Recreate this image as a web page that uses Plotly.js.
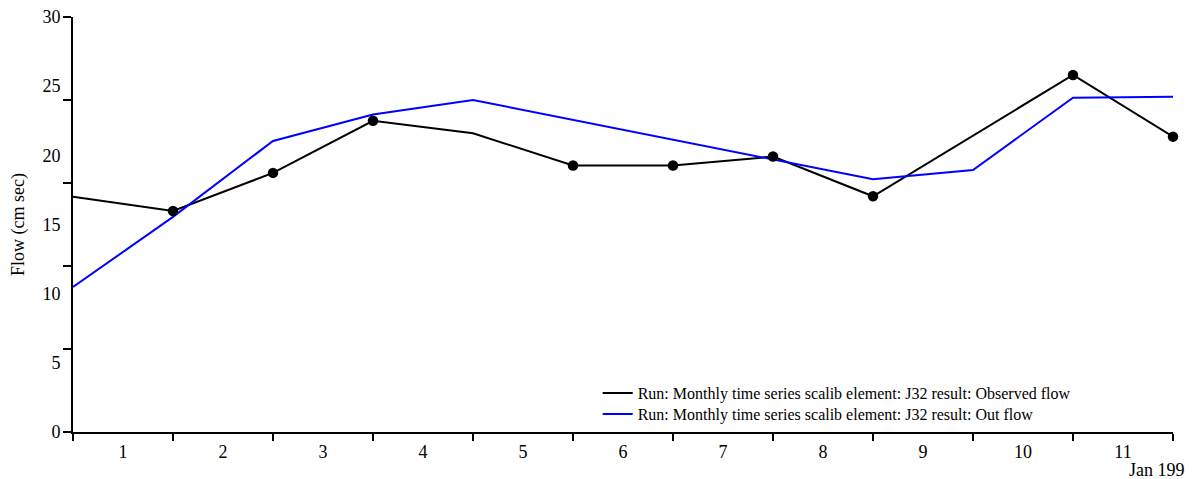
<!DOCTYPE html>
<html>
<head>
<meta charset="utf-8">
<script src="https://cdn.plot.ly/plotly-3.0.1.min.js"></script>
<style>html,body{margin:0;padding:0;background:#fff;}#chart{width:1194px;height:479px;}</style>
</head>
<body>
<div id="chart"></div>
<script>
// Month boundaries (index of month start, 0 = start of month 1)
const monthStarts = [0, 1, 2, 3, 4, 5, 6, 7, 8, 9, 10, 11];
// Observed flow (null = no vertex)
const observedFlow = [17.0, 15.98, 18.73, 22.5, 21.6, 19.26, 19.26, 19.91, 17.04, null, 25.81, 21.35];
// Whether an observed point carries a marker
const observedMarked = [false, true, true, true, false, true, true, true, true, false, true, true];
// Simulated out flow (null = no vertex)
const outFlow = [10.48, 15.55, 21.04, 22.95, 24.0, null, null, 19.74, 18.27, 18.94, 24.17, 24.24];
// Month label positions and text
const monthLabelPos = [0.5, 1.5, 2.5, 3.5, 4.5, 5.5, 6.5, 7.5, 8.5, 9.5, 10.5];
const monthLabels = ["1", "2", "3", "4", "5", "6", "7", "8", "9", "10", "11"];
const yTickMarks = [0, 6, 12, 18, 24, 30];
const yLabelVals = [0, 5, 10, 15, 20, 25, 30];
const yLabels = ["0", "5", "10", "15", "20", "25", "30"];
const seriesNames = [
  "Run: Monthly time series scalib element: J32 result: Observed flow",
  "Run: Monthly time series scalib element: J32 result: Out flow"
];
const periodLabel = "Jan 199";

const FONT = "Liberation Serif, Times New Roman, serif";

const markX = [], markY = [];
monthStarts.forEach((m, i) => { if (observedMarked[i] && observedFlow[i] !== null) { markX.push(m); markY.push(observedFlow[i]); } });

const traces = [
  {x: monthStarts, y: observedFlow, mode: 'lines', connectgaps: true, name: seriesNames[0], legend: 'legend',
   line: {color: '#000000', width: 2}, cliponaxis: false},
  {x: monthStarts, y: outFlow, mode: 'lines', connectgaps: true, name: seriesNames[1], legend: 'legend2',
   line: {color: '#0000ff', width: 2}, cliponaxis: false},
  {x: markX, y: markY, mode: 'markers', showlegend: false,
   marker: {color: '#000000', size: 10.5}, cliponaxis: false}
];

const legendFont = {family: FONT, size: 16, color: '#000'};
const layout = {
  width: 1194, height: 479,
  margin: {l: 73, r: 21, t: 17, b: 47},
  paper_bgcolor: '#ffffff', plot_bgcolor: '#ffffff',
  font: {family: FONT, size: 18, color: '#000'},
  showlegend: true,
  legend: {x: 0.477, xanchor: 'left', y: 0.135, yanchor: 'top', font: legendFont, bgcolor: 'rgba(0,0,0,0)'},
  legend2: {x: 0.477, xanchor: 'left', y: 0.0843, yanchor: 'top', font: legendFont, bgcolor: 'rgba(0,0,0,0)'},
  xaxis: {range: [0, 11], showgrid: false, zeroline: false, showline: true, linewidth: 2, linecolor: '#000',
          tickvals: monthStarts, ticktext: monthStarts.map(() => ''), ticks: 'outside', ticklen: 7, tickwidth: 2, tickcolor: '#000',
          fixedrange: true},
  xaxis2: {range: [0, 11], overlaying: 'x', side: 'bottom', anchor: 'y', showgrid: false, zeroline: false, showline: false,
           tickvals: monthLabelPos, ticktext: monthLabels, ticks: 'outside', ticklen: 3, tickcolor: 'rgba(0,0,0,0)',
           tickfont: {family: FONT, size: 18, color: '#000'}},
  yaxis: {range: [0, 30], showgrid: false, zeroline: false, showline: true, linewidth: 2, linecolor: '#000',
          tickvals: yTickMarks, ticktext: yTickMarks.map(() => ''), ticks: 'outside', ticklen: 8, tickwidth: 2, tickcolor: '#000',
          title: {text: 'Flow (cm sec)', font: {family: FONT, size: 18, color: '#000'}, standoff: 30}},
  yaxis2: {range: [0, 30], overlaying: 'y', side: 'left', anchor: 'x', showgrid: false, zeroline: false, showline: false,
           tickvals: yLabelVals, ticktext: yLabels, ticks: 'outside', ticklen: 8, tickcolor: 'rgba(0,0,0,0)',
           tickfont: {family: FONT, size: 18, color: '#000'}},
  annotations: [{text: periodLabel, xref: 'paper', yref: 'paper', x: 1, y: 0, xanchor: 'right', yanchor: 'middle',
                 xshift: 14, yshift: -38, showarrow: false, font: {family: FONT, size: 18, color: '#000'}}]
};

// invisible trace to activate the overlay label axes
traces.push({x: [0], y: [0], xaxis: 'x2', yaxis: 'y2', mode: 'markers', marker: {opacity: 0}, showlegend: false, hoverinfo: 'skip'});

Plotly.newPlot('chart', traces, layout, {staticPlot: true});
</script>
</body>
</html>
